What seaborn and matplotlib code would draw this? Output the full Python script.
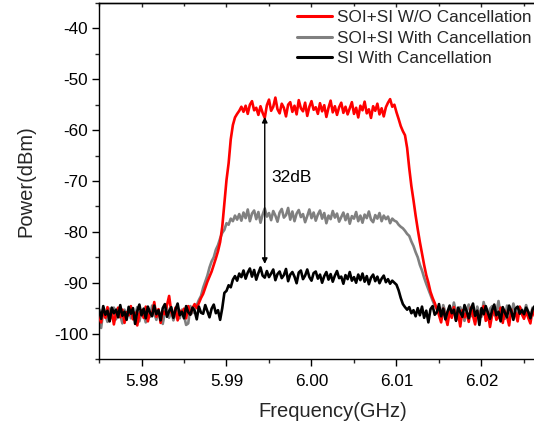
import numpy as np
import pandas as pd
import matplotlib
matplotlib.use("Agg")
import matplotlib.pyplot as plt
import seaborn as sns
from matplotlib.ticker import MultipleLocator, FormatStrFormatter

# ---------------- data ----------------
series_names = ["SOI+SI W/O Cancellation", "SOI+SI With Cancellation", "SI With Cancellation"]
series_colors = ["#ff0000", "#808080", "#000000"]

f_start, f_stop = 5.975, 6.027   # sweep of the analyser (GHz), 0.25 MHz steps

red_dbm = [
    # 5.975 - 5.98475
    -96.5, -97.8, -95.2, -96.9, -94.8, -97.5, -95.6, -98.2, -96.0, -94.9,
    -96.8, -95.3, -97.9, -95.8, -96.4, -94.6, -97.2, -95.9, -98.4, -96.1,
    -95.4, -96.9, -94.7, -97.6, -95.8, -96.3, -93.8, -96.7, -95.2, -97.9,
    -95.6, -96.2, -94.4, -92.6, -95.7, -96.8, -94.9, -97.4, -95.5, -96.0,
    # 5.985 - 5.98975
    -95.1, -97.0, -94.6, -96.2, -95.0, -94.2, -95.0, -94.0, -93.0, -92.2,
    -91.0, -89.8, -88.8, -87.8, -86.5, -85.2, -83.8, -82.0, -79.0, -74.5,
    # 5.990 - 5.99175
    -69.8, -66.5, -61.8, -59.0, -57.5, -56.8, -56.2, -55.4,
    # plateau 5.992 - 6.00975
    -56.4, -55.2, -56.8, -55.0, -54.3, -56.1, -55.6, -57.0, -55.3, -56.6,
    -57.6, -55.1, -54.0, -56.2, -55.4, -53.6, -55.9, -56.7, -54.8, -55.6,
    -57.3, -55.0, -54.5, -56.4, -55.2, -56.9, -54.1, -55.7, -56.3, -54.6,
    -57.2, -55.4, -54.3, -56.0, -55.5, -56.8, -54.7, -56.3, -55.1, -57.4,
    -55.6, -54.2, -56.5, -55.3, -57.0, -55.5, -54.6, -56.6, -55.4, -56.9,
    -55.7, -54.5, -56.8, -55.6, -57.5, -55.2, -56.1, -54.4, -56.7, -55.9,
    -57.6, -55.3, -56.2, -54.8, -56.9, -55.7, -57.3, -55.5, -54.6, -53.9,
    -55.4, -55.0,
    # fall 6.010 - 6.01475
    -56.5, -57.8, -59.2, -60.2, -61.0, -63.5, -67.5, -71.0, -73.8, -76.8,
    -79.5, -82.0, -84.3, -86.5, -88.5, -90.0, -91.8, -93.0, -94.0, -95.2,
    # 6.015 - 6.027
    -96.4, -97.8, -95.1, -96.6, -98.3, -95.7, -96.9, -94.8, -97.4, -96.0,
    -98.6, -95.4, -96.8, -95.9, -97.7, -94.9, -96.5, -98.2, -95.6, -97.0,
    -96.1, -94.6, -97.5, -95.8, -98.7, -96.3, -95.2, -97.3, -96.7, -94.9,
    -97.9, -95.5, -96.6, -98.4, -95.3, -96.8, -95.9, -97.6, -94.7, -96.2,
    -97.1, -95.6, -96.9, -98.0, -95.4, -96.5, -97.3, -95.8, -96.7,
]

gray_dbm = [
    # 5.975 - 5.98475
    -96.8, -98.9, -95.6, -96.3, -97.7, -95.1, -96.6, -94.9, -97.2, -95.8,
    -96.4, -98.0, -95.3, -96.9, -94.7, -97.0, -95.9, -96.5, -94.8, -97.6,
    -95.7, -96.2, -97.8, -95.0, -96.7, -94.5, -96.0, -97.3, -95.4, -96.6,
    -98.1, -95.8, -94.9, -96.9, -95.5, -97.4, -96.1, -94.8, -97.0, -95.3,
    # 5.985 - 5.98975
    -96.5, -98.3, -98.0, -94.6, -96.0, -95.2, -94.4, -93.4, -92.6, -91.0,
    -89.8, -88.6, -87.0, -85.8, -85.0, -83.5, -82.6, -81.3, -80.2, -79.6,
    # 5.990 - 5.99175
    -78.3, -78.6, -77.4, -77.9, -76.8, -77.6, -76.5, -77.8,
    # plateau 5.992 - 6.00975
    -76.2, -77.3, -75.6, -77.9, -76.4, -75.8, -77.5, -76.1, -78.2, -76.6,
    -75.4, -77.0, -76.3, -77.7, -75.9, -76.8, -78.0, -76.2, -75.5, -77.2,
    -76.7, -75.3, -77.6, -76.0, -77.9, -76.4, -75.7, -77.1, -76.5, -78.1,
    -76.9, -75.6, -77.3, -76.2, -77.8, -76.6, -75.8, -77.4, -76.3, -78.3,
    -76.8, -77.5, -75.9, -77.2, -76.4, -78.0, -77.1, -76.2, -77.7, -76.5,
    -78.4, -76.9, -77.4, -76.1, -77.9, -76.8, -78.2, -76.6, -77.3, -76.0,
    -77.6, -78.1, -76.7, -77.4, -76.3, -77.9, -76.8, -77.5, -77.0, -78.3,
    -77.4, -77.8,
    # fall 6.010 - 6.01475
    -78.0, -78.6, -79.0, -79.3, -79.8, -80.4, -80.8, -81.9, -82.8, -84.0,
    -85.0, -86.5, -87.6, -89.0, -90.2, -91.3, -92.4, -93.5, -94.5, -95.1,
    # 6.015 - 6.027
    -95.6, -96.9, -94.4, -95.8, -97.2, -95.0, -96.3, -93.9, -95.7, -96.8,
    -94.8, -96.1, -97.5, -95.4, -94.3, -96.6, -95.2, -97.0, -94.7, -95.9,
    -96.7, -93.8, -95.5, -97.3, -95.1, -94.6, -96.4, -95.8, -93.6, -96.2,
    -95.0, -97.1, -94.5, -95.7, -96.5, -94.1, -95.6, -96.9, -94.8, -95.3,
    -96.0, -94.4, -95.9, -96.8, -94.9, -95.5, -97.0, -94.6, -95.8,
]

black_dbm = [
    # 5.975 - 5.98475
    -95.2, -97.1, -94.6, -96.3, -95.5, -97.6, -94.9, -96.0, -95.3, -96.8,
    -94.4, -96.5, -95.7, -97.3, -94.8, -96.1, -95.0, -98.1, -95.6, -94.3,
    -96.4, -95.1, -97.0, -94.7, -95.9, -96.6, -94.5, -96.2, -95.4, -97.4,
    -95.0, -94.2, -96.7, -95.6, -94.8, -96.9, -95.3, -94.1, -96.4, -95.7,
    # 5.985 - 5.98975
    -97.0, -94.6, -95.8, -96.3, -94.9, -95.5, -97.2, -94.7, -95.9, -96.1,
    -94.4, -95.6, -96.8, -95.1, -94.3, -96.0, -95.4, -97.3, -95.0, -92.0,
    # 5.990 - 5.99175
    -91.6, -90.5, -90.9, -89.4, -88.7, -89.6, -88.2, -88.9,
    # plateau 5.992 - 6.00975
    -87.6, -89.2, -88.0, -87.2, -88.8, -87.5, -89.4, -88.1, -87.0, -88.6,
    -89.0, -87.7, -88.9, -88.2, -87.4, -89.5, -88.3, -87.8, -89.1, -88.5,
    -87.3, -89.7, -88.4, -87.9, -88.8, -90.1, -88.0, -87.6, -89.3, -88.6,
    -87.4, -88.9, -89.6, -88.1, -87.8, -89.2, -88.4, -90.0, -88.7, -87.9,
    -89.4, -88.3, -89.8, -88.6, -87.7, -89.1, -88.8, -90.2, -88.5, -89.3,
    -87.9, -89.6, -88.9, -90.0, -88.4, -89.5, -88.2, -89.8, -88.7, -90.3,
    -89.0, -88.4, -89.7, -88.8, -90.1, -89.2, -88.6, -89.9, -89.3, -90.2,
    -89.6, -90.0,
    # fall 6.010 - 6.01475
    -90.4, -91.5, -93.0, -94.2, -94.8, -95.3, -94.8, -96.0, -95.4, -96.6,
    -95.0, -96.4, -94.7, -96.9, -95.5, -97.8, -95.2, -94.6, -96.3, -95.8,
    # 6.015 - 6.027
    -94.2, -96.6, -95.1, -97.2, -95.7, -94.5, -96.0, -95.3, -97.5, -94.9,
    -95.8, -96.7, -94.4, -95.6, -97.0, -95.2, -94.1, -96.5, -95.5, -98.3,
    -95.0, -96.2, -94.6, -95.9, -97.1, -95.4, -94.3, -96.4, -95.7, -97.6,
    -94.8, -95.9, -96.8, -94.5, -95.6, -97.3, -95.1, -94.7, -96.1, -95.4,
    -96.2, -94.9, -95.7, -97.0, -95.3, -94.6, -96.3, -95.8, -96.9,
]

x_ticks = [5.98, 5.99, 6.00, 6.01, 6.02]
y_ticks = [-100, -90, -80, -70, -60, -50, -40]
arrow_freq = 5.9945
arrow_top, arrow_bottom = -57.4, -86.3
arrow_label = "32dB"

# ---------------- long table ----------------
frames = []
for name, vals in zip(series_names, [red_dbm, gray_dbm, black_dbm]):
    fr = np.linspace(f_start, f_stop, len(vals))
    frames.append(pd.DataFrame({"Frequency": fr, "Power": vals, "series": name}))
df = pd.concat(frames, ignore_index=True)

# ---------------- figure ----------------
sns.set_style("white")
plt.rcParams["font.family"] = ["Liberation Sans", "DejaVu Sans"]
plt.rcParams["axes.unicode_minus"] = False

fig = plt.figure(figsize=(5.34, 4.30), dpi=100)
W, H = 534, 430
ax = fig.add_axes([99 / W, (H - 359) / H, 467.5 / W, 356 / H])

zorders = {series_names[0]: 3, series_names[1]: 2, series_names[2]: 4}
for name, col in zip(series_names, series_colors):
    sub = df[df["series"] == name]
    sns.lineplot(data=sub, x="Frequency", y="Power", color=col, lw=1.9,
                 label=name, ax=ax, sort=False, estimator=None,
                 zorder=zorders[name])

ax.set_xlim(5.975, 6.030)
ax.set_ylim(-105, -35)

ax.set_xticks(x_ticks)
ax.set_yticks(y_ticks)
ax.xaxis.set_major_formatter(FormatStrFormatter("%.2f"))
ax.xaxis.set_minor_locator(MultipleLocator(0.005))
ax.yaxis.set_minor_locator(MultipleLocator(5))

for s in ["left", "bottom", "top"]:
    ax.spines[s].set_visible(True)
    ax.spines[s].set_color("black")
    ax.spines[s].set_linewidth(1.0)
ax.spines["right"].set_visible(False)

ax.tick_params(axis="both", which="major", direction="out", length=5, width=1,
               labelsize=12.3, colors="black", left=True, bottom=True)
ax.tick_params(axis="both", which="minor", direction="out", length=3, width=1,
               left=True, bottom=True)
ax.tick_params(axis="x", which="major", pad=6)
ax.tick_params(axis="y", which="major", pad=3)

# mirrored ticks on the top axis, pointing inward
top = ax.secondary_xaxis("top")
top.set_xticks(x_ticks)
top.xaxis.set_minor_locator(MultipleLocator(0.005))
top.tick_params(axis="x", which="major", direction="in", length=3, width=1,
                labeltop=False)
top.tick_params(axis="x", which="minor", direction="in", length=2, width=1)
top.spines["top"].set_linewidth(1.0)

ax.set_xlabel("Frequency(GHz)", fontsize=14.5, labelpad=9)
ax.set_ylabel("Power(dBm)", fontsize=14.5, labelpad=13)
ax.grid(False)

# double arrow annotation
ax.annotate("", xy=(arrow_freq, arrow_top), xytext=(arrow_freq, arrow_bottom),
            arrowprops=dict(arrowstyle="<|-|>", color="black", lw=1.0,
                            mutation_scale=8, shrinkA=0, shrinkB=0), zorder=6)
ax.text(arrow_freq + 0.0008, (arrow_top + arrow_bottom) / 2 + 2.6, arrow_label,
        fontsize=12.5, ha="left", va="center", color="black", zorder=6)

handles, labels = ax.get_legend_handles_labels()
order = [labels.index(n) for n in series_names]
leg = ax.legend([handles[i] for i in order], [labels[i] for i in order],
                loc="upper left", bbox_to_anchor=(297 / W, 1 - 10 / H),
                bbox_transform=fig.transFigure, frameon=False, fontsize=12.3,
                handlelength=2.05, handletextpad=0.3, labelspacing=0.33,
                borderpad=0, borderaxespad=0)
for ln in leg.get_lines():
    ln.set_linewidth(2.2)

fig.savefig("out.png", dpi=100)
